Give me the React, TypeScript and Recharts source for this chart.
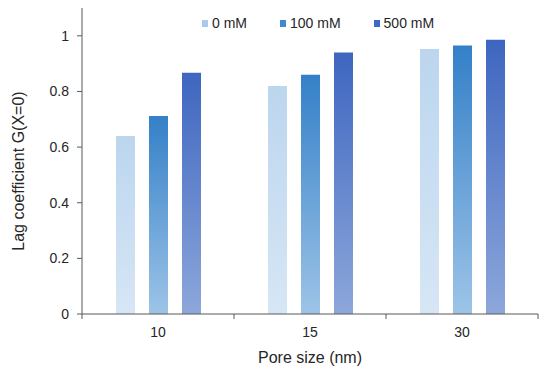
import React from 'react';
import { BarChart, Bar, XAxis, YAxis, Legend } from 'recharts';

const poreSizes = ['10', '15', '30'];
const series0mM = [0.64, 0.82, 0.953];
const series100mM = [0.712, 0.86, 0.965];
const series500mM = [0.867, 0.94, 0.986];
const yTicks = [0, 0.2, 0.4, 0.6, 0.8, 1];

const seriesInfo = [
    { key: 's0', name: '0 mM', top: '#BCD6EE', bottom: '#D6E6F5', swatch: '#A9CBEB' },
    { key: 's100', name: '100 mM', top: '#3480C8', bottom: '#9DC4E7', swatch: '#3D8AD2' },
    { key: 's500', name: '500 mM', top: '#3E66C0', bottom: '#8DA7DB', swatch: '#3C68C6' },
];

const data = poreSizes.map((p, i) => ({
    pore: p,
    s0: series0mM[i],
    s100: series100mM[i],
    s500: series500mM[i],
}));

const textColor = '#262626';
const axisColor = '#595959';
const font = 'Liberation Sans, Arial, sans-serif';

const XTick = (props: any) => {
    const { x, y, payload, index, visibleTicksCount } = props;
    const half = payload && payload.offset ? payload.offset : 152 / 2;
    return (
        <g>
            <line x1={x - half} y1={y} x2={x - half} y2={y + 5} stroke={axisColor} strokeWidth={1} />
            {index === visibleTicksCount - 1 && (
                <line x1={x + half} y1={y} x2={x + half} y2={y + 5} stroke={axisColor} strokeWidth={1} />
            )}
            <text x={x} y={y + 23} textAnchor="middle" fill={textColor} fontSize={14} fontFamily={font}>
                {payload.value}
            </text>
        </g>
    );
};

const YLabel = (props: any) => {
    const { viewBox } = props;
    const cy = viewBox.y + viewBox.height / 2 + 10;
    return (
        <text
            x={24}
            y={cy}
            transform={`rotate(-90, 24, ${cy})`}
            textAnchor="middle"
            fill={textColor}
            fontSize={16}
            fontFamily={font}
        >
            Lag coefficient G(X=0)
        </text>
    );
};

const LegendContent = () => (
    <div style={{ display: 'flex', alignItems: 'center', fontFamily: font, fontSize: 14, color: textColor }}>
        {seriesInfo.map((s) => (
            <div key={s.key} style={{ display: 'flex', alignItems: 'center', marginRight: 33 }}>
                <span style={{ display: 'inline-block', width: 6, height: 7, background: s.swatch, marginRight: 4 }} />
                <span>{s.name}</span>
            </div>
        ))}
    </div>
);

export default function App() {
    return (
        <div style={{ position: 'absolute', left: 0, top: 0, width: 550, height: 371, background: '#fff' }}>
            <BarChart
                width={550}
                height={371}
                data={data}
                margin={{ top: 8, right: 12, left: 0, bottom: 0 }}
                barCategoryGap={34}
                barGap={14}
            >
                <defs>
                    {seriesInfo.map((s) => (
                        <linearGradient key={s.key} id={`grad-${s.key}`} x1="0" y1="0" x2="0" y2="1">
                            <stop offset="0%" stopColor={s.top} />
                            <stop offset="100%" stopColor={s.bottom} />
                        </linearGradient>
                    ))}
                </defs>
                <XAxis
                    dataKey="pore"
                    height={57}
                    tick={<XTick />}
                    tickLine={false}
                    tickSize={0}
                    tickMargin={0}
                    axisLine={{ stroke: axisColor }}
                    interval={0}
                    label={{
                        value: 'Pore size (nm)',
                        position: 'insideBottom',
                        offset: 8,
                        fill: textColor,
                        fontSize: 16,
                        fontFamily: font,
                    }}
                />
                <XAxis xAxisId="top" orientation="top" dataKey="pore" height={0} tick={false} tickLine={false} axisLine={{ stroke: axisColor }} />
                <YAxis
                    width={82}
                    domain={[0, 1.1]}
                    ticks={yTicks}
                    interval={0}
                    tickSize={5}
                    tickMargin={8}
                    tickLine={{ stroke: axisColor }}
                    axisLine={{ stroke: axisColor }}
                    tick={{ fill: textColor, fontSize: 14, fontFamily: font }}
                    label={<YLabel />}
                />
                <YAxis yAxisId="right" orientation="right" width={0} domain={[0, 1.1]} tick={false} tickLine={false} axisLine={{ stroke: axisColor }} />
                <Legend
                    verticalAlign="middle"
                    content={<LegendContent />}
                    wrapperStyle={{ top: 15, left: 202, width: 'auto', height: 18 }}
                />
                {seriesInfo.map((s) => (
                    <Bar key={s.key} dataKey={s.key} name={s.name} fill={`url(#grad-${s.key})`} isAnimationActive={false} />
                ))}
            </BarChart>
        </div>
    );
}
